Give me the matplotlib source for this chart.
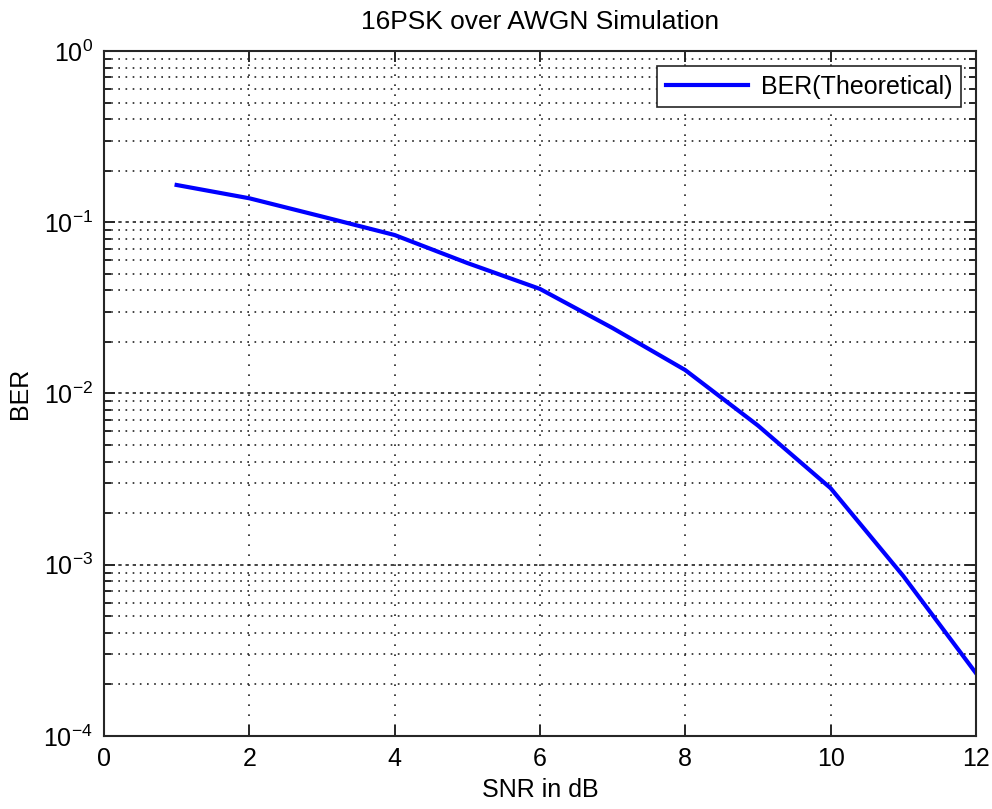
import matplotlib.pyplot as plt
from matplotlib.ticker import LogLocator

plt.rcParams['font.family'] = ['Liberation Sans', 'DejaVu Sans']
plt.rcParams['mathtext.default'] = 'regular'

# values
snr_db = [1, 2, 3, 4, 5, 6, 7, 8, 9, 10, 11, 12]
ber_theory = [0.165, 0.138, 0.108, 0.0842, 0.0578, 0.0408, 0.0241, 0.0137,
              0.0065, 0.0028, 0.00086, 0.000233]

fig = plt.figure(figsize=(9.92, 8.09), dpi=100)
ax = fig.add_axes([0.1048, 0.0902, 0.8790, 0.8468])

ax.semilogy(snr_db, ber_theory, color='#0000ff', linewidth=3, label='BER(Theoretical)')

ax.set_xlim(0, 12)
ax.set_ylim(1e-4, 1)
ax.set_xticks(range(0, 13, 2))
ax.yaxis.set_major_locator(LogLocator(base=10, numticks=10))
ax.yaxis.set_minor_locator(LogLocator(base=10, subs=range(2, 10), numticks=20))

# matlab style dotted grid
ax.xaxis.grid(True, which='major', linestyle=(0, (1, 5)), color='#222222', linewidth=1.2)
ax.yaxis.grid(True, which='major', linestyle=(0, (2, 2.3)), color='#222222', linewidth=1.2)
ax.yaxis.grid(True, which='minor', linestyle=(0, (1, 3.3)), color='#222222', linewidth=1.2)

ax.tick_params(which='both', direction='in', top=True, right=True, labelsize=18,
               width=1.4, color='#262626')
ax.tick_params(which='major', length=8, pad=8)
ax.tick_params(which='minor', length=5)
ax.tick_params(axis='x', which='minor', length=0)
for s in ax.spines.values():
    s.set_linewidth(1.5)
    s.set_color('#262626')

ax.set_title('16PSK over AWGN Simulation', fontsize=19, pad=16)
ax.set_xlabel('SNR in dB', fontsize=18, labelpad=5)
ax.set_ylabel('BER', fontsize=18, labelpad=8)

leg = ax.legend(loc='upper right', fontsize=18, fancybox=False, framealpha=1,
                edgecolor='#262626', handlelength=3.3, borderaxespad=0.6,
                borderpad=0.35, handletextpad=0.5)
leg.get_frame().set_linewidth(1.2)

fig.savefig('out.png', dpi=100)
